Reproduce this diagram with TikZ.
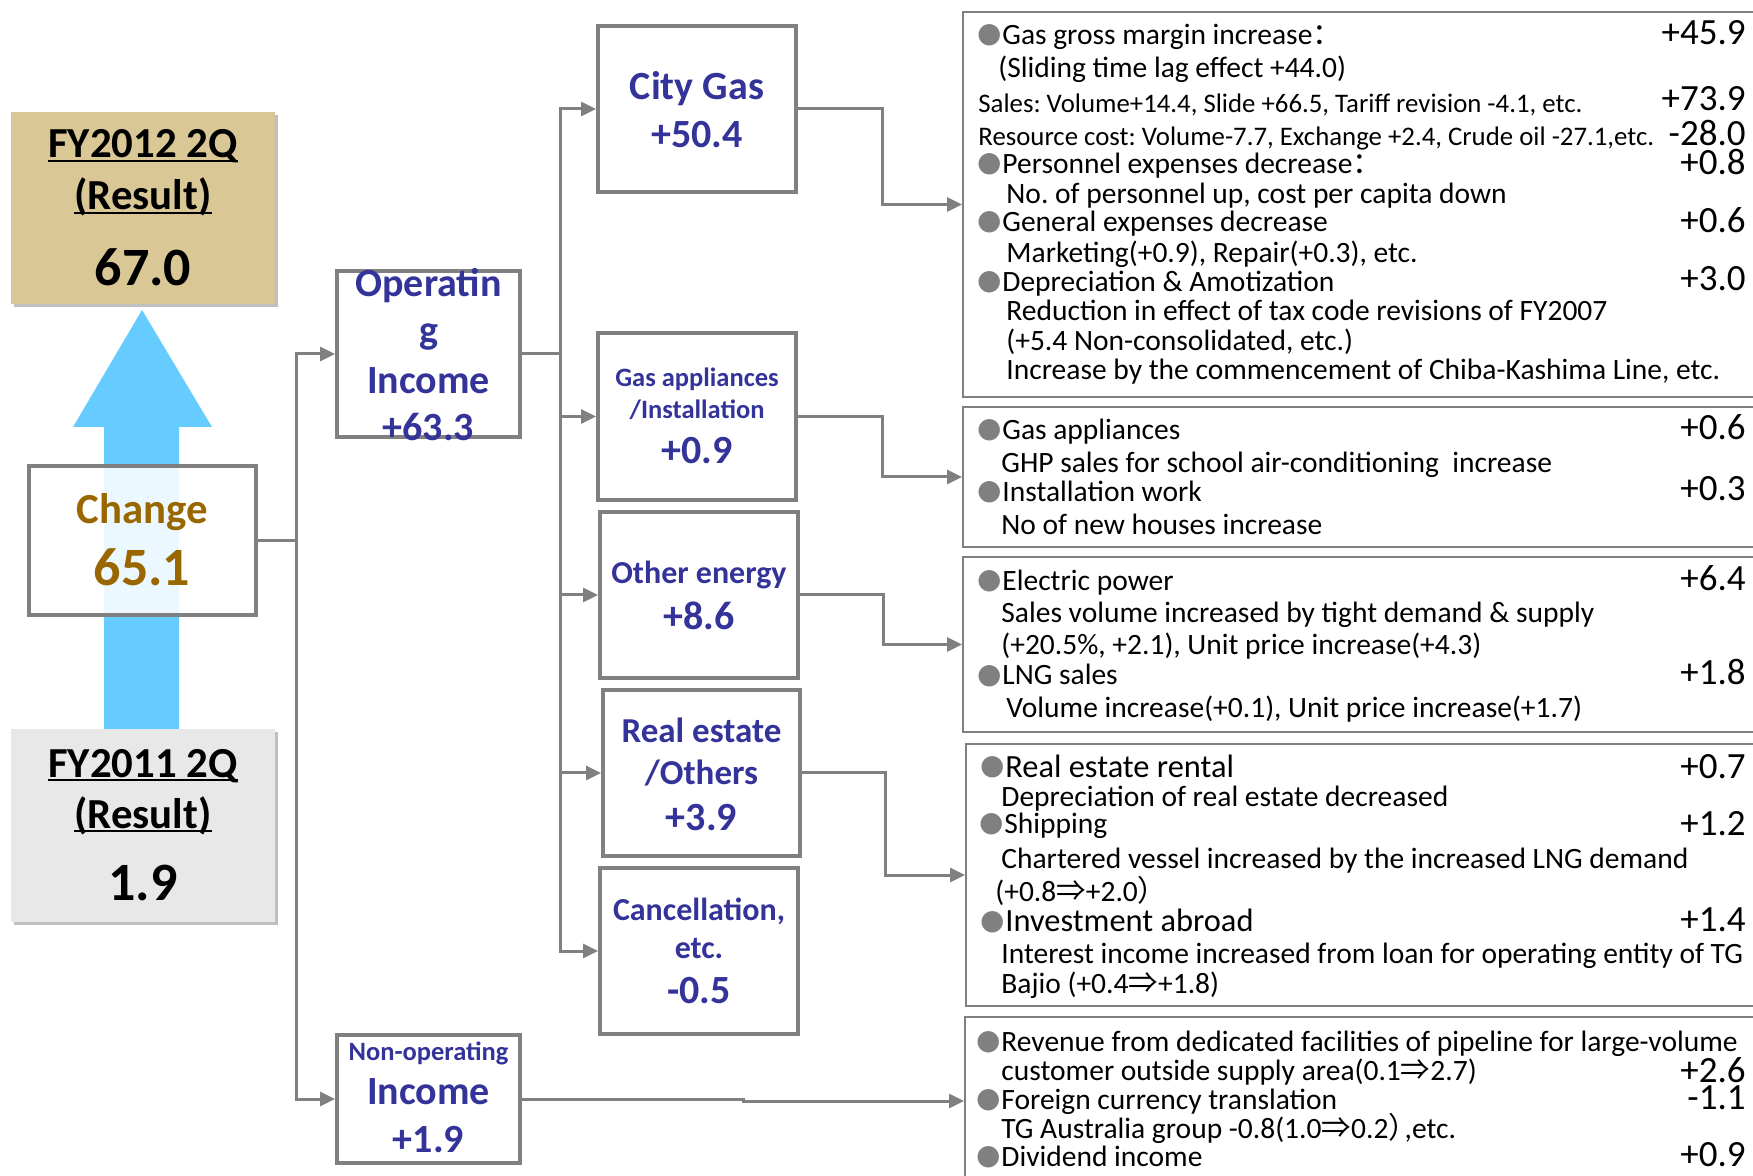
\documentclass[tikz,border=0pt]{standalone}
\usepackage{fontspec}
\setmainfont{Carlito}
\newfontfamily\cjk{Noto Sans CJK JP}
\newfontfamily\cjksc{Noto Sans CJK SC}
\newfontfamily\symf{DejaVu Sans}
\usetikzlibrary{arrows.meta}
\frenchspacing
\definecolor{cline}{HTML}{808080}
\definecolor{nblue}{HTML}{333399}
\definecolor{cbrown}{HTML}{996600}
\definecolor{restan}{HTML}{DAC796}
\definecolor{resgray}{HTML}{E8E8E8}
\definecolor{shad}{HTML}{BFBFBF}
\definecolor{arrblue}{HTML}{66CCFF}
\newcommand\fsz[1]{\fontsize{#1}{#1}\selectfont\frenchspacing}
\newcommand\myul[1]{\setbox0\hbox{#1}\rlap{\rule[-2.2pt]{\wd0}{1pt}}\box0}
\tikzset{
  conn/.style={draw=cline, line width=1.5pt},
  arr/.style={conn, -{Triangle[length=7.5pt,width=7pt]}},
  midbox/.style={draw=cline, line width=2pt, fill=white, inner sep=0pt},
  rbox/.style={draw=cline, line width=1pt, inner sep=0pt},
  resbox/.style={inner sep=0pt, preaction={fill=shad, transform canvas={shift={(1.5pt,-1.5pt)}}}},
  lt1/.style={anchor=base, inner sep=0pt, font=\bfseries\fsz{21.4}},
  lt2/.style={anchor=base, inner sep=0pt, font=\bfseries\fsz{27}},
  mt/.style={anchor=base, inner sep=0pt, text=nblue, font=\bfseries\fsz{20}},
  mts/.style={anchor=base, inner sep=0pt, text=nblue, font=\bfseries\fsz{13.25}},
  mtm/.style={anchor=base, inner sep=0pt, text=nblue, font=\bfseries\fsz{16}},
  mtr/.style={anchor=base, inner sep=0pt, text=nblue, font=\bfseries\fsz{17.5}},
  rt/.style={anchor=base west, inner sep=0pt, font=\fsz{14.75}},
  rtb/.style={anchor=base west, inner sep=0pt, font=\fsz{16.2}},
  rs/.style={anchor=base west, inner sep=0pt, font=\fsz{13.4}},
  rn/.style={anchor=base east, inner sep=0pt, font=\fsz{18.5}},
  bul/.style={anchor=base east, inner sep=0pt, text=cline, font=\symf\fsz{14}, yshift=1pt}
}
\begin{document}
\begin{tikzpicture}[x=0.5pt,y=-0.5pt]
\useasboundingbox (0,0) rectangle (1753,1176);
\clip (0,0) rectangle (1753,1176);
\fill[white] (0,0) rectangle (1753,1176);

% big blue arrow
\fill[arrblue] (104,729) -- (104,427) -- (73,427) -- (142,310) -- (212,427) -- (179,427) -- (179,729) -- cycle;

% left boxes
\node[resbox, fill=restan, minimum width=132pt, minimum height=96pt] (fy12) at (143,208) {};
\node[resbox, fill=resgray, minimum width=132pt, minimum height=96.5pt] (fy11) at (143,825.5) {};
\node[draw=cline, line width=2pt, fill=white, fill opacity=0.87, inner sep=0pt, minimum width=113.5pt, minimum height=74.5pt] (change) at (142.5,540.5) {};

\node[lt1] (fy12a) at (143,158) {\myul{FY2012 2Q}};
\node[lt1] (fy12b) at (143,210) {\myul{(Result)}};
\node[lt2] (fy12c) at (143,286) {67.0};
\node[lt1, text=cbrown] (chga) at (142,524) {Change};
\node[lt2, text=cbrown] (chgb) at (142,586) {65.1};
\node[lt1] (fy11a) at (143,777) {\myul{FY2011 2Q}};
\node[lt1] (fy11b) at (143,828) {\myul{(Result)}};
\node[lt2] (fy11c) at (143,900) {1.9};

% middle boxes
\node[midbox, minimum width=91.5pt, minimum height=83pt] (oper) at (428.5,354) {};
\node[midbox, minimum width=91.5pt, minimum height=64pt] (nonop) at (428.5,1099) {};
\node[midbox, minimum width=99pt, minimum height=83pt] (city) at (697,109) {};
\node[midbox, minimum width=99pt, minimum height=83.5pt] (gasap) at (697,416.5) {};
\node[midbox, minimum width=99pt, minimum height=83pt] (other) at (699,595) {};
\node[midbox, minimum width=98.5pt, minimum height=83pt] (realest) at (701.5,773) {};
\node[midbox, minimum width=99pt, minimum height=83pt] (cancel) at (699,951) {};

% right boxes
\node[rbox, minimum width=401pt, minimum height=192.5pt] (r1) at (1364,204.5) {};
\node[rbox, minimum width=401pt, minimum height=70pt] (r2) at (1364,477) {};
\node[rbox, minimum width=401pt, minimum height=87.5pt] (r3) at (1364,644.5) {};
\node[rbox, minimum width=399.5pt, minimum height=131pt] (r4) at (1365.5,875) {};
\node[rbox, minimum width=400pt, minimum height=84pt] (r5) at (1365,1101) {};

% connectors
\coordinate (lt) at (296,540.5);
\coordinate (tr) at (560,354);
\coordinate (nb) at (743,1099);
\draw[conn] (change.east) -- (lt);
\draw[arr] (lt) |- (oper.west);
\draw[arr] (lt) |- (nonop.west);
\draw[conn] (oper.east) -- (tr);
\draw[arr] (tr) |- (city.west);
\draw[arr] (tr) |- (gasap.west);
\draw[arr] (tr) |- (other.west);
\draw[arr] (tr) |- (realest.west);
\draw[arr] (tr) |- (cancel.west);
\draw[arr] (city.east) -- ++(84,0) |- (r1.west);
\draw[arr] (gasap.east) -- ++(84,0) |- (r2.west);
\draw[arr] (other.east) -- ++(83,0) |- (r3.west);
\draw[arr] (realest.east) -- ++(83,0) |- (r4.west);
\draw[arr] (nonop.east) -- (nb) |- (r5.west);

% middle texts
\node[mt] (opa) at (428.5,297) {Operatin};
\node[mt] (opb) at (428.5,344) {g};
\node[mt] (opc) at (428.5,394) {Income};
\node[mt] (opd) at (428.5,441) {+63.3};
\node[mts] (noa) at (428.5,1060) {Non-operating};
\node[mt] (nob) at (428.5,1104) {Income};
\node[mt] (noc) at (428.5,1152) {+1.9};
\node[mt] (cia) at (697,100) {City Gas};
\node[mt] (cib) at (697,148) {+50.4};
\node[mts] (gaa) at (697,387) {Gas appliances};
\node[mts] (gab) at (697,419) {/Installation};
\node[mt] (gac) at (697,464) {+0.9};
\node[mtm] (ota) at (699,584) {Other energy};
\node[mt] (otb) at (699,630) {+8.6};
\node[mtr] (rea) at (701.5,742) {Real estate};
\node[mtr] (reb) at (701.5,784) {/Others};
\node[mt] (rec) at (701.5,830) {+3.9};
\node[mtm] (caa) at (699,920) {Cancellation,};
\node[mtm] (cab) at (699,958) {etc.};
\node[mt] (cac) at (699,1003) {-0.5};

% box 1
\node[bul] (b11) at (1002,45) {●};
\node[rt] (t11) at (1002,45) {Gas gross margin increase{\cjksc ：}};
\node[rn] (n11) at (1746,45) {+45.9};
\node[rt] (t12) at (998,78) {(Sliding time lag effect +44.0)};
\node[rs] (t13) at (978,113) {Sales: Volume+14.4, Slide +66.5, Tariff revision -4.1, etc.};
\node[rn] (n13) at (1746,111) {+73.9};
\node[rs] (t14) at (978,146) {Resource cost: Volume-7.7, Exchange +2.4, Crude oil -27.1,etc.};
\node[rn] (n14) at (1746,146) {-28.0};
\node[bul] (b15) at (1002,174) {●};
\node[rt] (t15) at (1002,174) {Personnel expenses decrease{\cjksc ：}};
\node[rn] (n15) at (1746,175) {+0.8};
\node[rt] (t16) at (1006,204) {No. of personnel up, cost per capita down};
\node[bul] (b17) at (1002,232) {●};
\node[rt] (t17) at (1002,232) {General expenses decrease};
\node[rn] (n17) at (1746,233) {+0.6};
\node[rt] (t18) at (1006,263) {Marketing(+0.9), Repair(+0.3), etc.};
\node[bul] (b19) at (1002,292) {●};
\node[rt] (t19) at (1002,292) {Depreciation \& Amotization};
\node[rn] (n19) at (1746,291) {+3.0};
\node[rt] (t1a) at (1006,321) {Reduction in effect of tax code revisions of FY2007};
\node[rt] (t1b) at (1006,351) {(+5.4 Non-consolidated, etc.)};
\node[rt] (t1c) at (1006,380) {Increase by the commencement of Chiba-Kashima Line, etc.};

% box 2
\node[bul] (b21) at (1002,440) {●};
\node[rt] (t21) at (1002,440) {Gas appliances};
\node[rn] (n21) at (1746,440) {+0.6};
\node[rt] (t22) at (1001,473) {GHP sales for school air-conditioning~ increase};
\node[bul] (b23) at (1002,502) {●};
\node[rt] (t23) at (1002,502) {Installation work};
\node[rn] (n23) at (1746,501) {+0.3};
\node[rt] (t24) at (1001,535) {No of new houses increase};

% box 3
\node[bul] (b31) at (1002,591) {●};
\node[rt] (t31) at (1002,591) {Electric power};
\node[rn] (n31) at (1746,591) {+6.4};
\node[rt] (t32) at (1001,623) {Sales volume increased by tight demand \& supply};
\node[rt] (t33) at (1001,655) {(+20.5\%, +2.1), Unit price increase(+4.3)};
\node[bul] (b34) at (1002,685) {●};
\node[rt] (t34) at (1002,685) {LNG sales};
\node[rn] (n34) at (1746,685) {+1.8};
\node[rt] (t35) at (1006,718) {Volume increase(+0.1), Unit price increase(+1.7)};

% box 4
\node[bul] (b41) at (1005,777) {●};
\node[rtb] (t41) at (1005,777) {Real estate rental};
\node[rn] (n41) at (1746,778) {+0.7};
\node[rt] (t42) at (1001,806) {Depreciation of real estate decreased};
\node[bul] (b43) at (1004,834) {●};
\node[rt] (t43) at (1004,834) {Shipping};
\node[rn] (n43) at (1746,835) {+1.2};
\node[rt] (t44) at (1001,868) {Chartered vessel increased by the increased LNG demand};
\node[rt] (t45) at (995,901) {(+0.8{\cjk ⇒}+2.0{\cjk ）}};
\node[bul] (b46) at (1005,931) {●};
\node[rtb] (t46) at (1005,931) {Investment abroad};
\node[rn] (n46) at (1746,931) {+1.4};
\node[rt] (t47) at (1001,963) {Interest income increased from loan for operating entity of TG};
\node[rt] (t48) at (1001,993) {Bajio (+0.4{\cjk ⇒}+1.8)};

% box 5
\node[bul] (b51) at (1001,1051) {●};
\node[rt] (t51) at (1001,1051) {Revenue from dedicated facilities of pipeline for large-volume};
\node[rt] (t52) at (1001,1080) {customer outside supply area(0.1{\cjk ⇒}2.7)};
\node[rn] (n52) at (1746,1082) {+2.6};
\node[bul] (b53) at (1001,1109) {●};
\node[rt] (t53) at (1001,1109) {Foreign currency translation};
\node[rn] (n53) at (1746,1109) {-1.1};
\node[rt] (t54) at (1001,1138) {TG Australia group -0.8(1.0{\cjk ⇒}0.2{\cjk ）}\kern-0.45em,etc.};
\node[bul] (b55) at (1001,1166) {●};
\node[rt] (t55) at (1001,1166) {Dividend income};
\node[rn] (n55) at (1746,1166) {+0.9};
\end{tikzpicture}
\end{document}
